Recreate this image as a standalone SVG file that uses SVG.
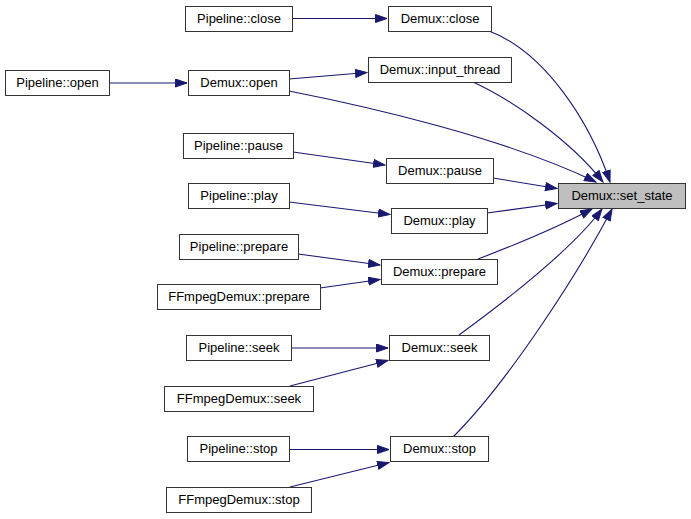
<svg xmlns="http://www.w3.org/2000/svg" width="691" height="519" viewBox="0 0 691 519">
<style>
.n rect{fill:#ffffff;stroke:#333333;stroke-width:1}
#set_state rect{fill:#bfbfbf;stroke:#333333}
.n text{font-family:"Liberation Sans",Arial,sans-serif;font-size:13px;fill:#000;text-anchor:middle}
#edges path{fill:none;stroke:#191970;stroke-width:1.1;marker-end:url(#ah)}
</style>
<defs>
<marker id="ah" markerUnits="userSpaceOnUse" markerWidth="13" markerHeight="10" refX="12" refY="4.5" orient="auto">
<path d="M0.5,0.5 L12,4.5 L0.5,8.5 z" fill="#191970" stroke="#191970" stroke-width="1"/>
</marker>
</defs>
<rect width="691" height="519" fill="#ffffff"/>
<g id="edges">
<path d="M292,18.5 L387,18.5"/>
<path d="M109,83 L187,83"/>
<path d="M289,79 L367,72.5"/>
<path d="M289,91 C370,107 505,138 596,182"/>
<path d="M489,31 C545,52 590,122 610,182"/>
<path d="M473,82 C512,100 570,140 603,182"/>
<path d="M293,152 L385,165"/>
<path d="M493,178 L557,188.5"/>
<path d="M289,202 L390,214.5"/>
<path d="M487,213 L557,203.5"/>
<path d="M298,254 L380,265"/>
<path d="M320,288 L380,279.5"/>
<path d="M478,259 C520,243 560,226 592,209"/>
<path d="M291,348 L388,348"/>
<path d="M290,386 L388,360.5"/>
<path d="M459,335 C500,305 570,252 602,209"/>
<path d="M289,449.5 L389,449.5"/>
<path d="M290,487 L389,462.5"/>
<path d="M453,437 C510,380 580,270 612,209"/>
</g>
<g id="pipeline_close" class="n"><rect x="185.5" y="6.5" width="107" height="25"/><text x="239" y="23">Pipeline::close</text></g>
<g id="pipeline_open" class="n"><rect x="5.5" y="70.5" width="104" height="25"/><text x="57.5" y="87">Pipeline::open</text></g>
<g id="demux_open" class="n"><rect x="188.5" y="70.5" width="101" height="25"/><text x="239" y="87">Demux::open</text></g>
<g id="pipeline_pause" class="n"><rect x="183.5" y="133.5" width="110" height="25"/><text x="238.5" y="150">Pipeline::pause</text></g>
<g id="pipeline_play" class="n"><rect x="188.5" y="183.5" width="101" height="25"/><text x="239" y="200">Pipeline::play</text></g>
<g id="pipeline_prepare" class="n"><rect x="179.5" y="234.5" width="119" height="25"/><text x="239" y="251">Pipeline::prepare</text></g>
<g id="ffmpeg_prepare" class="n"><rect x="157.5" y="284.5" width="163" height="25"/><text x="239" y="301">FFmpegDemux::prepare</text></g>
<g id="pipeline_seek" class="n"><rect x="186.5" y="335.5" width="105" height="25"/><text x="239" y="352">Pipeline::seek</text></g>
<g id="ffmpeg_seek" class="n"><rect x="164.5" y="386.5" width="149" height="25"/><text x="239" y="403">FFmpegDemux::seek</text></g>
<g id="pipeline_stop" class="n"><rect x="187.5" y="436.5" width="102" height="25"/><text x="238.5" y="453">Pipeline::stop</text></g>
<g id="ffmpeg_stop" class="n"><rect x="166.5" y="487.5" width="145" height="25"/><text x="239" y="504">FFmpegDemux::stop</text></g>
<g id="demux_close" class="n"><rect x="388.5" y="6.5" width="103" height="25"/><text x="440" y="23">Demux::close</text></g>
<g id="demux_input_thread" class="n"><rect x="368.5" y="57.5" width="143" height="25"/><text x="440" y="74">Demux::input_thread</text></g>
<g id="demux_pause" class="n"><rect x="386.5" y="158.5" width="107" height="25"/><text x="440" y="175">Demux::pause</text></g>
<g id="demux_play" class="n"><rect x="391.5" y="208.5" width="96" height="25"/><text x="439.5" y="225">Demux::play</text></g>
<g id="demux_prepare" class="n"><rect x="381.5" y="259.5" width="116" height="25"/><text x="439.5" y="276">Demux::prepare</text></g>
<g id="demux_seek" class="n"><rect x="389.5" y="335.5" width="100" height="25"/><text x="439.5" y="352">Demux::seek</text></g>
<g id="demux_stop" class="n"><rect x="390.5" y="436.5" width="98" height="25"/><text x="439.5" y="453">Demux::stop</text></g>
<g id="set_state" class="n"><rect x="558.5" y="183.5" width="127" height="25"/><text x="622" y="200">Demux::set_state</text></g>
</svg>
